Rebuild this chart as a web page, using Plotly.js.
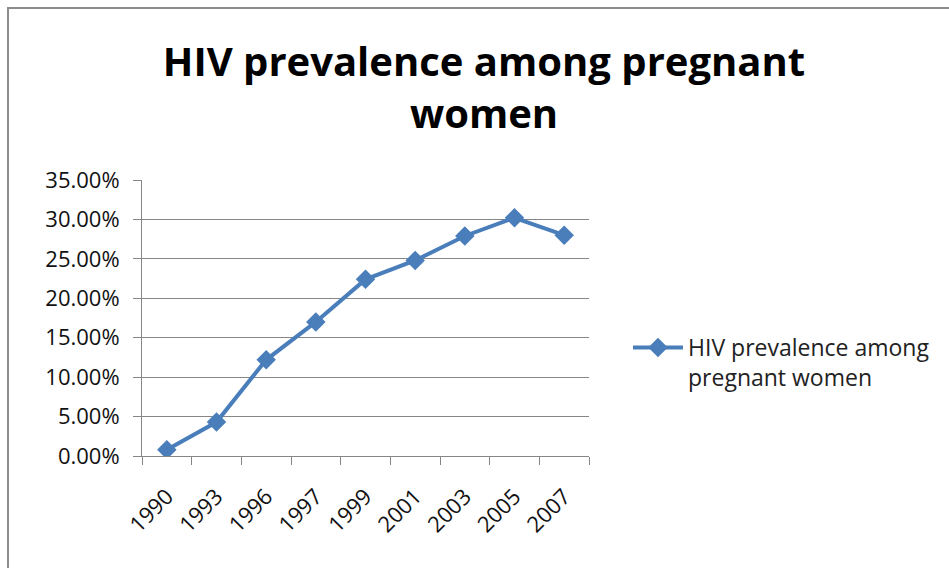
<!DOCTYPE html>
<html>
<head>
<meta charset="utf-8">
<script src="https://cdn.plot.ly/plotly-3.0.1.min.js"></script>
<style>
  html, body { margin: 0; padding: 0; background: #fff; overflow: hidden; }
  #chart { width: 949px; height: 568px; }
  #frame { position: absolute; left: 7px; top: 7px; width: 2000px; height: 2000px;
           border-left: 2px solid #8c8c8c; border-top: 2px solid #8c8c8c; pointer-events: none; }
</style>
</head>
<body>
<div id="chart"></div>
<div id="frame"></div>
<script>
const years = ["1990", "1993", "1996", "1997", "1999", "2001", "2003", "2005", "2007"];
const prevalence = [0.008, 0.043, 0.122, 0.170, 0.224, 0.248, 0.279, 0.302, 0.280];
const seriesName = "HIV prevalence among<br>pregnant women";
const chartTitle = "HIV prevalence among pregnant<br>women";

const font = "'Open Sans', 'Noto Sans', sans-serif";
const blue = "#4a7ebb";
const gray = "#868686";

const trace = {
  x: years,
  y: prevalence,
  type: "scatter",
  mode: "lines+markers",
  name: seriesName,
  line: { color: blue, width: 4 },
  marker: { symbol: "diamond", size: 15, color: blue },
  showlegend: true
};

const layout = {
  width: 949,
  height: 568,
  margin: { l: 142, r: 360, t: 180, b: 112 },
  paper_bgcolor: "#fff",
  plot_bgcolor: "#fff",
  font: { family: font, color: "#1a1a1a" },
  title: {
    text: chartTitle,
    font: { family: font, size: 40, color: "#000", weight: "bold" },
    x: 484 / 949,
    xref: "container",
    xanchor: "center",
    y: 1 - 76 / 568,
    yref: "container",
    yanchor: "top"
  },
  xaxis: {
    type: "category",
    range: [-0.5, 8.5],
    showline: true,
    linecolor: gray,
    linewidth: 1,
    ticks: "outside",
    tickson: "boundaries",
    ticklen: 8,
    tickcolor: gray,
    tickangle: -45,
    ticklabelstandoff: 18,
    tickfont: { family: font, size: 22, color: "#111" },
    showgrid: false,
    zeroline: false
  },
  yaxis: {
    range: [0, 0.35],
    dtick: 0.05,
    tickformat: ".2%",
    showline: true,
    linecolor: gray,
    linewidth: 1,
    ticks: "outside",
    ticklen: 8,
    tickcolor: gray,
    ticklabelstandoff: 9,
    showgrid: true,
    gridcolor: gray,
    gridwidth: 1,
    zeroline: false,
    tickfont: { family: font, size: 22, color: "#111" }
  },
  legend: {
    x: 628 / 949,
    xref: "container",
    xanchor: "left",
    y: 1 - 326 / 568,
    yref: "container",
    yanchor: "top",
    valign: "top",
    itemwidth: 50,
    font: { family: font, size: 23, color: "#222" },
    bgcolor: "rgba(0,0,0,0)"
  },
  showlegend: true
};

Plotly.newPlot("chart", [trace], layout, { displayModeBar: false, staticPlot: true });
</script>
</body>
</html>
